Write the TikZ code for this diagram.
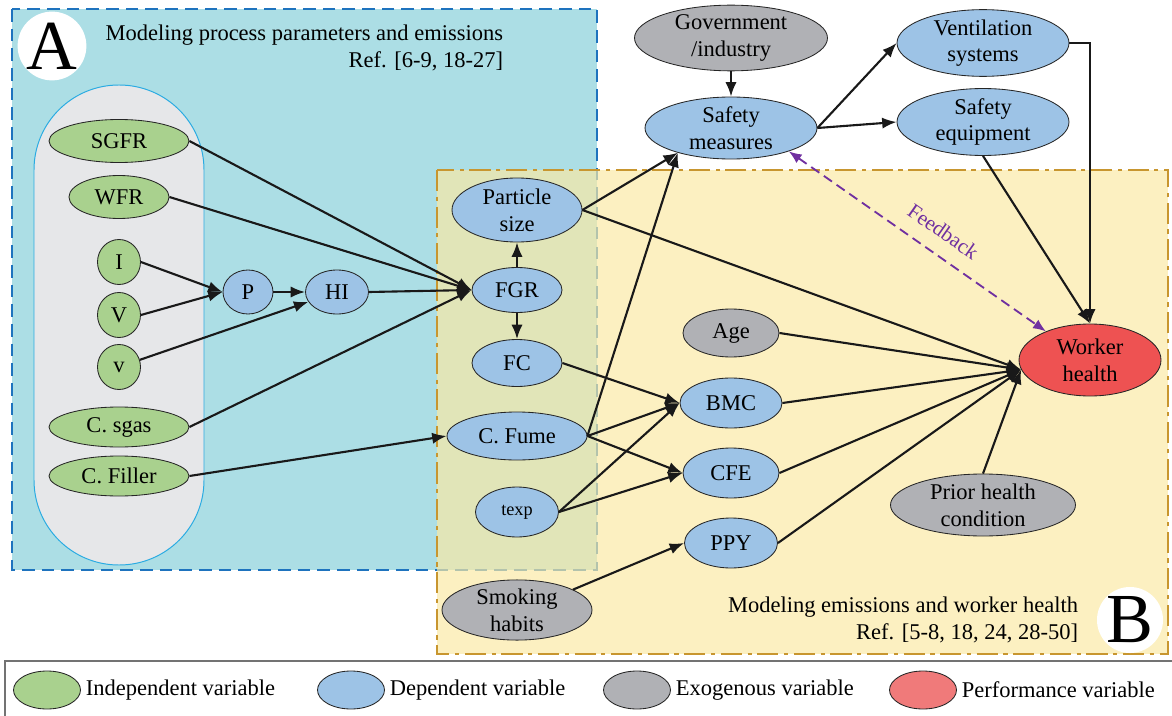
\documentclass[tikz,border=0pt]{standalone}
\usepackage{fontspec}
\setmainfont{Liberation Serif}
\usetikzlibrary{shapes.geometric,arrows.meta,positioning}
\definecolor{indepgreen}{RGB}{169,209,142}
\definecolor{depblue}{RGB}{157,195,230}
\definecolor{exogray}{RGB}{176,177,181}
\definecolor{perfred}{RGB}{238,82,82}
\definecolor{legred}{RGB}{240,122,122}
\definecolor{boxcyan}{RGB}{172,222,229}
\definecolor{boxblue}{RGB}{30,115,190}
\definecolor{boxyellow}{RGB}{251,233,164}
\definecolor{boxgold}{RGB}{200,150,47}
\definecolor{pillgray}{RGB}{230,231,233}
\definecolor{pillblue}{RGB}{41,171,226}
\definecolor{fbpurple}{RGB}{112,48,160}
\tikzset{var/.style={draw=black!85,ellipse,inner sep=0pt,line width=0.6pt,
        align=center,font=\fontsize{16}{19}\selectfont},
    indep/.style={var,fill=indepgreen},
    dep/.style={var,fill=depblue},
    exo/.style={var,fill=exogray},
    perf/.style={var,fill=perfred},
    sz/.style 2 args={minimum width=#1*0.025cm,minimum height=#2*0.025cm},
    arr/.style={draw=black!90,line width=1.5pt,-{Latex[length=3.6mm,width=2.8mm]}},
    fb/.style={draw=fbpurple,line width=1.3pt,dash pattern=on 7pt off 4pt,
        {Latex[length=3.2mm,width=2.6mm]}-{Latex[length=3.2mm,width=2.6mm]}},
    txt/.style={font=\fontsize{16}{19}\selectfont},
    bigletter/.style={circle,fill=white,inner sep=0pt,minimum size=1.65cm,
        font=\fontsize{50}{50}\selectfont}}

\begin{document}
\begin{tikzpicture}[x=0.025cm,y=-0.025cm]
        \useasboundingbox (0,0) rectangle (1172,716);

        % region A
        \fill[boxcyan] (12,9) rectangle (597,570);
        \draw[boxblue,line width=2pt,dash pattern=on 9pt off 5pt] (12,9) rectangle (597,570);
        \node[bigletter] (labA) at (52,46) {A};
        \node[txt,align=right,anchor=north east] (titA) at (508,20)
            {Modeling process parameters and emissions\\Ref. [6-9, 18-27]};
        \draw[pillblue,fill=pillgray,line width=0.7pt,rounded corners=2.12cm] (34,85) rectangle (204,565);

        % region B
        \fill[boxyellow,fill opacity=0.68] (437,170) rectangle (1168,654);
        \draw[boxgold,line width=2pt,dash pattern=on 15pt off 4pt on 3pt off 4pt] (437,170) rectangle (1168,654);
        \node[bigletter] (labB) at (1130,620) {B};
        \node[txt,align=right,anchor=south east] (titB) at (1083,648)
            {Modeling emissions and worker health\\Ref. [5-8, 18, 24, 28-50]};

        % variables
        \node[indep,sz={140}{43}] (SGFR) at (119,141) {SGFR};
        \node[indep,sz={100}{43}] (WFR) at (119,197) {WFR};
        \node[indep,sz={43}{45}] (I) at (119,262) {I};
        \node[indep,sz={43}{45}] (V) at (119,315) {V};
        \node[indep,sz={43}{45}] (vel) at (119,367) {v};
        \node[indep,sz={140}{40}] (Csgas) at (119,427) {C. sgas};
        \node[indep,sz={140}{40}] (Cfill) at (119,476) {C. Filler};
        \node[dep,sz={50}{44}] (P) at (248,292) {P};
        \node[dep,sz={63}{44}] (HI) at (337,292) {HI};
        \node[dep,sz={130}{64}] (PS) at (517,210) {Particle\\size};
        \node[dep,sz={90}{45}] (FGR) at (517,290) {FGR};
        \node[dep,sz={90}{47}] (FC) at (517,363) {FC};
        \node[dep,sz={140}{48}] (Cfume) at (517,436) {C. Fume};
        \node[dep,sz={83}{50},font=\fontsize{13}{15}\selectfont] (texp) at (517,512) {texp};
        \node[exo,sz={193}{60}] (Gov) at (731,38) {Government\\/industry};
        \node[dep,sz={172}{62}] (SM) at (731,128) {Safety\\measures};
        \node[dep,sz={172}{62}] (Vent) at (983,43) {Ventilation\\systems};
        \node[dep,sz={172}{62}] (SEq) at (983,122) {Safety\\equipment};
        \node[exo,sz={96}{48}] (Age) at (731,333) {Age};
        \node[dep,sz={102}{50}] (BMC) at (731,403) {BMC};
        \node[dep,sz={96}{50}] (CFE) at (731,473) {CFE};
        \node[dep,sz={93}{50}] (PPY) at (731,543) {PPY};
        \node[perf,sz={142}{72}] (WH) at (1090,360) {Worker\\health};
        \node[exo,sz={185}{62}] (Prior) at (983,505) {Prior health\\condition};
        \node[exo,sz={150}{60}] (Smoke) at (517,610) {Smoking\\habits};

        \coordinate (whin) at (WH.188);
        \coordinate (smin) at (SM.205);

        % connectors
        \draw[arr] (SGFR.east) -- (FGR.west);
        \draw[arr] (WFR.east) -- (FGR.west);
        \draw[arr] (I.east) -- (P.west);
        \draw[arr] (V.east) -- (P.west);
        \draw[arr] (vel) -- (HI);
        \draw[arr] (P.east) -- (HI.west);
        \draw[arr] (HI.east) -- (FGR.west);
        \draw[arr] (Csgas.east) -- (FGR.west);
        \draw[arr] (Cfill.east) -- (Cfume.west);
        \draw[arr] (FGR.north) -- (PS.south);
        \draw[arr] (FGR.south) -- (FC.north);
        \draw[arr] (PS.east) -- (smin);
        \draw[arr] (Cfume.east) -- (smin);
        \draw[arr] (PS.east) -- (whin);
        \draw[arr] (FC.east) -- (BMC.west);
        \draw[arr] (Cfume.east) -- (BMC.west);
        \draw[arr] (Cfume.east) -- (CFE.west);
        \draw[arr] (texp.east) -- (BMC.west);
        \draw[arr] (texp.east) -- (CFE.west);
        \draw[arr] (Smoke.20) -- (PPY.west);
        \draw[arr] (Gov.south) -- (SM.north);
        \draw[arr] (SM.east) -- (Vent.west);
        \draw[arr] (SM.east) -- (SEq.west);
        \draw[arr] (Vent.east) -| (WH.north);
        \draw[arr] (SEq.south) -- (WH.north);
        \draw[arr] (Age.east) -- (whin);
        \draw[arr] (BMC.east) -- (whin);
        \draw[arr] (CFE.east) -- (whin);
        \draw[arr] (PPY.east) -- (whin);
        \draw[arr] (Prior.north) -- (whin);
        \draw[fb] (SM.-22) -- node[sloped,above=7pt,pos=0.55,text=fbpurple,
            font=\fontsize{15}{17}\selectfont] {Feedback} (WH.147);

        % legend
        \draw[black!55,line width=0.8pt] (5,716) -- (5,661) -- (1172,661);
        \node[indep,sz={67}{38}] (lgI) at (47,690) {};
        \node[txt,right=0pt of lgI] {Independent variable};
        \node[dep,sz={67}{38}] (lgD) at (351,690) {};
        \node[txt,right=0pt of lgD] {Dependent variable};
        \node[exo,sz={67}{38}] (lgE) at (637,690) {};
        \node[txt,right=0pt of lgE] {Exogenous variable};
        \node[var,fill=legred,sz={67}{38}] (lgP) at (923,690) {};
        \node[txt,right=0pt of lgP] {Performance variable};
    \end{tikzpicture}
\end{document}
